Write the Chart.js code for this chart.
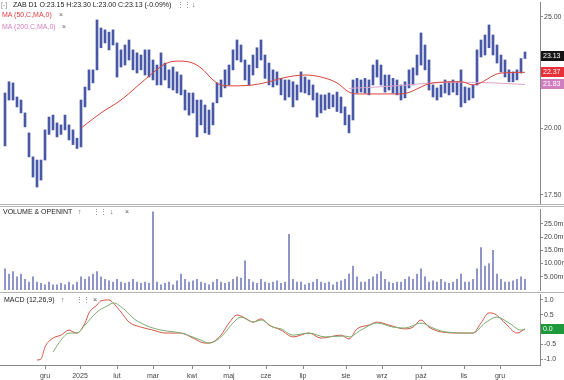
<!DOCTYPE html>
<html><head><meta charset="utf-8">
<script src="https://cdn.jsdelivr.net/npm/chart.js@4/dist/chart.umd.min.js"></script>
<style>
html,body{margin:0;padding:0;background:#fff;}
#wrap{position:relative;width:564px;height:380px;overflow:hidden;font-family:"Liberation Sans",Arial,sans-serif;}
canvas{position:absolute;left:0;}
.lbl{position:absolute;font-size:7px;white-space:nowrap;line-height:8px;}
.sep{position:absolute;left:0;width:564px;height:1px;background:#b4b4b4;}
</style></head>
<body><div id="wrap">
<canvas id="cMain" width="564" height="204" style="top:0"></canvas>
<canvas id="cVol" width="564" height="84" style="top:207px"></canvas>
<canvas id="cMacd" width="564" height="87" style="top:293px"></canvas>
<div class="sep" style="top:204px"></div>
<div class="sep" style="top:206px"></div>
<div class="sep" style="top:292px"></div>
<div class="lbl" style="left:1px;top:1px;color:#888">[-]</div>
<div class="lbl" id="hdr" style="left:13px;top:1px;color:#222"></div>
<div class="lbl" style="left:177px;top:1px;color:#777">⋮⋮</div>
<div class="lbl" style="left:192px;top:1px;color:#555">↓</div>
<div class="lbl" style="left:2px;top:11px;color:#e0393e">MA (50,C,MA,0)</div>
<div class="lbl" style="left:59px;top:11px;color:#666">×</div>
<div class="lbl" style="left:2px;top:23px;color:#d47fbb">MA (200,C,MA,0)</div>
<div class="lbl" style="left:62px;top:23px;color:#666">×</div>
<div class="lbl" style="left:3px;top:208px;color:#222">VOLUME &amp; OPENINT</div>
<div class="lbl" style="left:78px;top:208px;color:#555">↑</div>
<div class="lbl" style="left:93px;top:208px;color:#777">⋮⋮</div>
<div class="lbl" style="left:110px;top:208px;color:#555">↓</div>
<div class="lbl" style="left:125px;top:208px;color:#555">×</div>
<div class="lbl" style="left:4px;top:296px;color:#222">MACD (12,26,9)</div>
<div class="lbl" style="left:61px;top:296px;color:#555">↑</div>
<div class="lbl" style="left:76px;top:296px;color:#777">⋮⋮</div>
<div class="lbl" style="left:93px;top:296px;color:#555">×</div>
</div>
<script>
// ---- data ----
const headerOHLC = [23.15, 23.30, 23.00, 23.13];
const headerChange = -0.09;

const monthTicks = ['gru','2025','lut','mar','kwi','maj','cze','lip','sie','wrz','paź','lis','gru'];
const monthTickIdx = [10, 18.75, 28, 37, 46.75, 56, 65.25, 74.5, 85.25, 94.25, 104, 114.75, 123.75];

const highs = [21.46,21.95,21.9,21.29,21.16,20.62,19.81,18.88,18.76,18.76,
  19.93,20.45,20.53,20.21,20.13,20.53,20.13,19.93,19.6,21.16,
  21.72,22.48,22.48,24.85,24.45,24.36,24.25,24.36,23.73,23.4,
  23.63,23.87,23.4,23.26,23.16,23.4,23.4,22.93,22.7,23.26,
  22.79,22.48,22.61,22.39,22.25,21.59,21.46,21.46,21.16,21.16,
  20.95,20.74,21.04,21.9,22.03,22.48,22.7,23.4,23.87,23.63,
  22.93,22.7,23.16,23.5,23.87,23.16,22.79,22.48,22.39,22.1,
  22.03,22.03,21.95,21.81,22.39,22.16,22.03,21.81,21.46,21.38,
  21.38,21.46,21.38,21.5,21.29,20.87,20.53,22.03,22.1,22.03,
  22.1,22.03,22.7,22.93,22.7,22.25,22.25,22.1,22.03,21.81,
  21.95,22.48,22.57,23.16,24.21,23.63,22.93,21.81,21.68,21.81,
  22.03,21.95,22.03,21.95,22.48,21.72,21.68,21.81,23.4,23.87,
  24.11,24.6,24.11,23.63,23.16,22.93,22.48,22.39,22.48,23.0,
  23.3];
const lows = [19.3,21.16,21.16,20.87,20.62,20.05,18.88,18.13,17.77,18.02,
  18.76,19.75,19.93,19.65,19.75,19.93,19.53,19.35,19.2,19.26,
  20.87,21.59,21.9,22.48,23.5,23.73,23.4,23.63,22.16,22.61,
  22.7,22.93,22.48,22.34,22.48,22.25,22.16,22.03,21.81,21.81,
  22.03,21.68,21.59,21.46,21.38,20.74,20.53,20.62,19.65,20.13,
  19.81,19.75,20.13,21.04,21.29,21.68,21.81,22.48,22.93,22.84,
  22.03,21.81,22.25,22.57,22.93,22.1,21.81,21.72,21.81,21.38,
  21.16,21.29,20.87,21.16,21.5,21.46,21.38,21.16,20.45,20.62,
  20.74,20.8,20.87,20.68,20.62,20.13,19.81,20.33,21.46,21.5,
  21.46,21.38,21.81,22.16,21.81,21.5,21.59,21.46,21.38,21.16,
  21.25,21.68,21.81,22.25,22.7,22.48,21.59,21.29,21.16,21.29,
  21.46,21.38,21.5,21.38,20.87,21.04,21.16,21.25,21.81,23.07,
  23.16,23.5,23.16,22.79,22.39,22.16,21.95,21.95,22.03,22.34,
  23.0];
const volumes = [8,6,7,5,6,4,3,5,3,2.5,
  2,3,2,2,2.5,2,3,2,3,5,
  4,5,6,7,5,4,3.5,3,4,3,
  2.5,3,4,3,2.5,3,2.5,29.5,3,2,
  2.5,3,2,3.5,6,4,3,3.5,4,3,
  2.5,2,3,4,3,2.5,3,4,5,4.5,
  11,4,3,2.5,4,3,2.5,3,3.5,2.5,
  3,21,4,3,3,2,2.5,3,4,3,
  2.5,3,2,3,3.5,4,6,9,5,3,
  3,4,5,6,7,4,3,2.5,3,3,
  4,5,4,6,8,5,3,3.5,3,4,
  3,2.5,3,4,6,3,3,4,8,16,
  9,10,15,6,4,3,3,3.5,4,5,
  4];

const ma50Idx = [19,24,29,34,36,40,43,46,49,52,54,57,62,66,69,75,79,83,86,88,99,107,114,117,124,130];
const ma50Val = [20.0,20.62,21.16,21.9,22.2,22.75,22.88,22.84,22.57,22.03,21.81,21.77,21.81,21.95,22.1,22.25,22.16,21.9,21.5,21.42,21.42,21.9,21.95,21.81,22.34,22.37];
const ma200Idx = [86,93,100,107,114,122,130];
const ma200Val = [21.66,21.72,21.8,21.9,21.93,21.9,21.83];

const macdIdx = [8,9,10,12,14,16,17,18,20,21,23,24,26,27,29,31,34,37,40,44,47,50,52,54,56,58,60,62,64,66,69,72,76,79,84,86,88,91,93,96,100,102,104,106,109,114,117,119,121,122,125,128,130];
const macdVal = [-1.03,-1.0,-0.59,-0.29,-0.19,-0.02,-0.08,-0.12,0.22,0.56,0.83,0.97,1.0,0.9,0.59,0.25,0.08,-0.02,-0.12,-0.12,-0.29,-0.46,-0.42,-0.19,0.22,0.49,0.39,0.25,0.36,0.15,-0.02,-0.25,-0.12,-0.29,-0.19,-0.32,0.02,0.15,0.25,0.15,0.02,0.08,0.32,0.08,-0.08,-0.12,-0.12,0.22,0.56,0.55,0.22,-0.12,0.02];
const signalIdx = [12,14,16,18,20,23,26,27,30,32,35,39,44,49,51,54,57,59,62,64,67,69,72,76,80,85,86,89,93,97,100,104,107,110,117,120,123,126,129,130];
const signalVal = [-0.76,-0.36,-0.12,-0.12,0.15,0.59,0.83,0.9,0.66,0.39,0.15,-0.02,-0.12,-0.36,-0.46,-0.25,0.22,0.42,0.25,0.32,0.08,0.02,-0.19,-0.12,-0.25,-0.22,-0.25,-0.02,0.22,0.08,0.05,0.22,0.05,-0.08,-0.12,0.22,0.42,0.22,-0.02,0.02];

const priceTicks = [17.5, 20, 25];
const priceTickLabels = ['17.50','20.00','25.00'];
const volTicks = [5, 10, 15, 20, 25];
const volTickLabels = ['5.00m','10.00m','15.0m','20.0m','25.0m'];
const macdTicks = [-1, -0.5, 0, 0.5, 1];
const macdTickLabels = ['-1.0','-0.5','0.0','0.5','1.0'];

// ---- header text ----
document.getElementById('hdr').textContent =
  'ZAB D1 O:' + headerOHLC[0].toFixed(2) + ' H:' + headerOHLC[1].toFixed(2) +
  ' L:' + headerOHLC[2].toFixed(2) + ' C:' + headerOHLC[3].toFixed(2) +
  ' (' + headerChange.toFixed(2) + '%)';

// ---- chart setup ----
const X_MIN = -1.25, X_MAX = 133.75;
Chart.defaults.font.family = '"Liberation Sans", Arial, sans-serif';
Chart.defaults.font.size = 7;
Chart.defaults.color = '#444';
Chart.defaults.animation = false;

function yAxis(min, max, vals, lbls, type) {
  return {
    type: type || 'linear', position: 'right', min: min, max: max, bounds: 'data',
    afterFit(s) { s.width = 24; s.paddingTop = 0; s.paddingBottom = 0; },
    afterBuildTicks(s) { s.ticks = vals.map(v => ({ value: v })); },
    ticks: { autoSkip: false, padding: 1, color: '#444', font: { size: 7 }, callback: (v, i) => lbls[i] },
    grid: { display: true, drawOnChartArea: false, drawTicks: true, tickLength: 3, color: '#888' },
    border: { display: true, color: '#888' }
  };
}
function xAxis(show) {
  const o = { type: 'linear', min: X_MIN, max: X_MAX, bounds: 'data', offset: false, display: show };
  if (show) {
    Object.assign(o, {
      afterFit(s) { s.height = 15; s.paddingLeft = 0; s.paddingRight = 0; },
      afterBuildTicks(s) { s.ticks = monthTickIdx.map(v => ({ value: v })); },
      ticks: { autoSkip: false, maxRotation: 0, padding: 3, color: '#444', font: { size: 7 }, callback: (v, i) => monthTicks[i] },
      grid: { display: true, drawOnChartArea: false, drawTicks: true, tickLength: 4, color: '#888' },
      border: { display: true, color: '#888' }
    });
  }
  return o;
}
function tagPlugin(tags) {
  return {
    id: 'tags',
    afterDraw(chart) {
      const ctx = chart.ctx, y = chart.scales.y, x0 = chart.chartArea.right + 1;
      ctx.save();
      tags.forEach(t => {
        const py = Math.round(y.getPixelForValue(t.value));
        ctx.fillStyle = t.bg;
        ctx.fillRect(x0, py - 5, 23, 10);
        ctx.fillStyle = '#fff';
        ctx.font = '7px "Liberation Sans", Arial, sans-serif';
        ctx.textBaseline = 'middle';
        ctx.textAlign = 'left';
        ctx.fillText(t.text, x0 + 2, py + 0.5);
      });
      ctx.restore();
    }
  };
}
const pts = (idx, val) => idx.map((x, i) => ({ x: x, y: val[i] }));
const common = { responsive: false, devicePixelRatio: 1, animation: false,
  plugins: { legend: { display: false }, tooltip: { enabled: false } }, events: [] };

// main price panel
new Chart(document.getElementById('cMain'), {
  type: 'bar',
  data: { datasets: [
    { type: 'line', data: pts(ma50Idx, ma50Val), borderColor: '#d9463f', borderWidth: 1, pointRadius: 0, cubicInterpolationMode: 'monotone', order: 1 },
    { type: 'line', data: pts(ma200Idx, ma200Val), borderColor: '#dca3c8', borderWidth: 1, pointRadius: 0, cubicInterpolationMode: 'monotone', order: 2 },
    { type: 'bar', data: highs.map((h, i) => ({ x: i, y: [lows[i], h] })), backgroundColor: '#4858a6', barThickness: 2, order: 3 }
  ] },
  options: Object.assign({}, common, {
    layout: { padding: { top: 2, bottom: 1, left: 0, right: 0 } },
    scales: { x: xAxis(false), y: yAxis(17.21, 25.76, priceTicks, priceTickLabels, 'logarithmic') }
  }),
  plugins: [tagPlugin([
    { value: headerOHLC[3], text: headerOHLC[3].toFixed(2), bg: '#151515' },
    { value: ma50Val[ma50Val.length - 1], text: ma50Val[ma50Val.length - 1].toFixed(2), bg: '#e8303a' },
    { value: ma200Val[ma200Val.length - 1], text: ma200Val[ma200Val.length - 1].toFixed(2), bg: '#cf7fc0' }
  ])]
});

// volume panel
new Chart(document.getElementById('cVol'), {
  type: 'bar',
  data: { datasets: [
    { data: volumes.map((v, i) => ({ x: i, y: v })), backgroundColor: '#8e94c8', barThickness: 1.3 }
  ] },
  options: Object.assign({}, common, {
    layout: { padding: { top: 2, bottom: 1, left: 0, right: 0 } },
    scales: { x: xAxis(false), y: yAxis(0, 30.6, volTicks, volTickLabels) }
  })
});

// MACD panel
new Chart(document.getElementById('cMacd'), {
  type: 'line',
  data: { datasets: [
    { data: pts(signalIdx, signalVal), borderColor: '#7fae72', borderWidth: 1, pointRadius: 0, cubicInterpolationMode: 'monotone' },
    { data: pts(macdIdx, macdVal), borderColor: '#d6584a', borderWidth: 1, pointRadius: 0, cubicInterpolationMode: 'monotone' }
  ] },
  options: Object.assign({}, common, {
    layout: { padding: { top: 1, bottom: 0, left: 0, right: 0 } },
    scales: { x: xAxis(true), y: yAxis(-1.2, 1.2, macdTicks, macdTickLabels) }
  }),
  plugins: [tagPlugin([
    { value: macdVal[macdVal.length - 1], text: macdVal[macdVal.length - 1].toFixed(1), bg: '#1e9a3c' }
  ])]
});
</script>
</body></html>
